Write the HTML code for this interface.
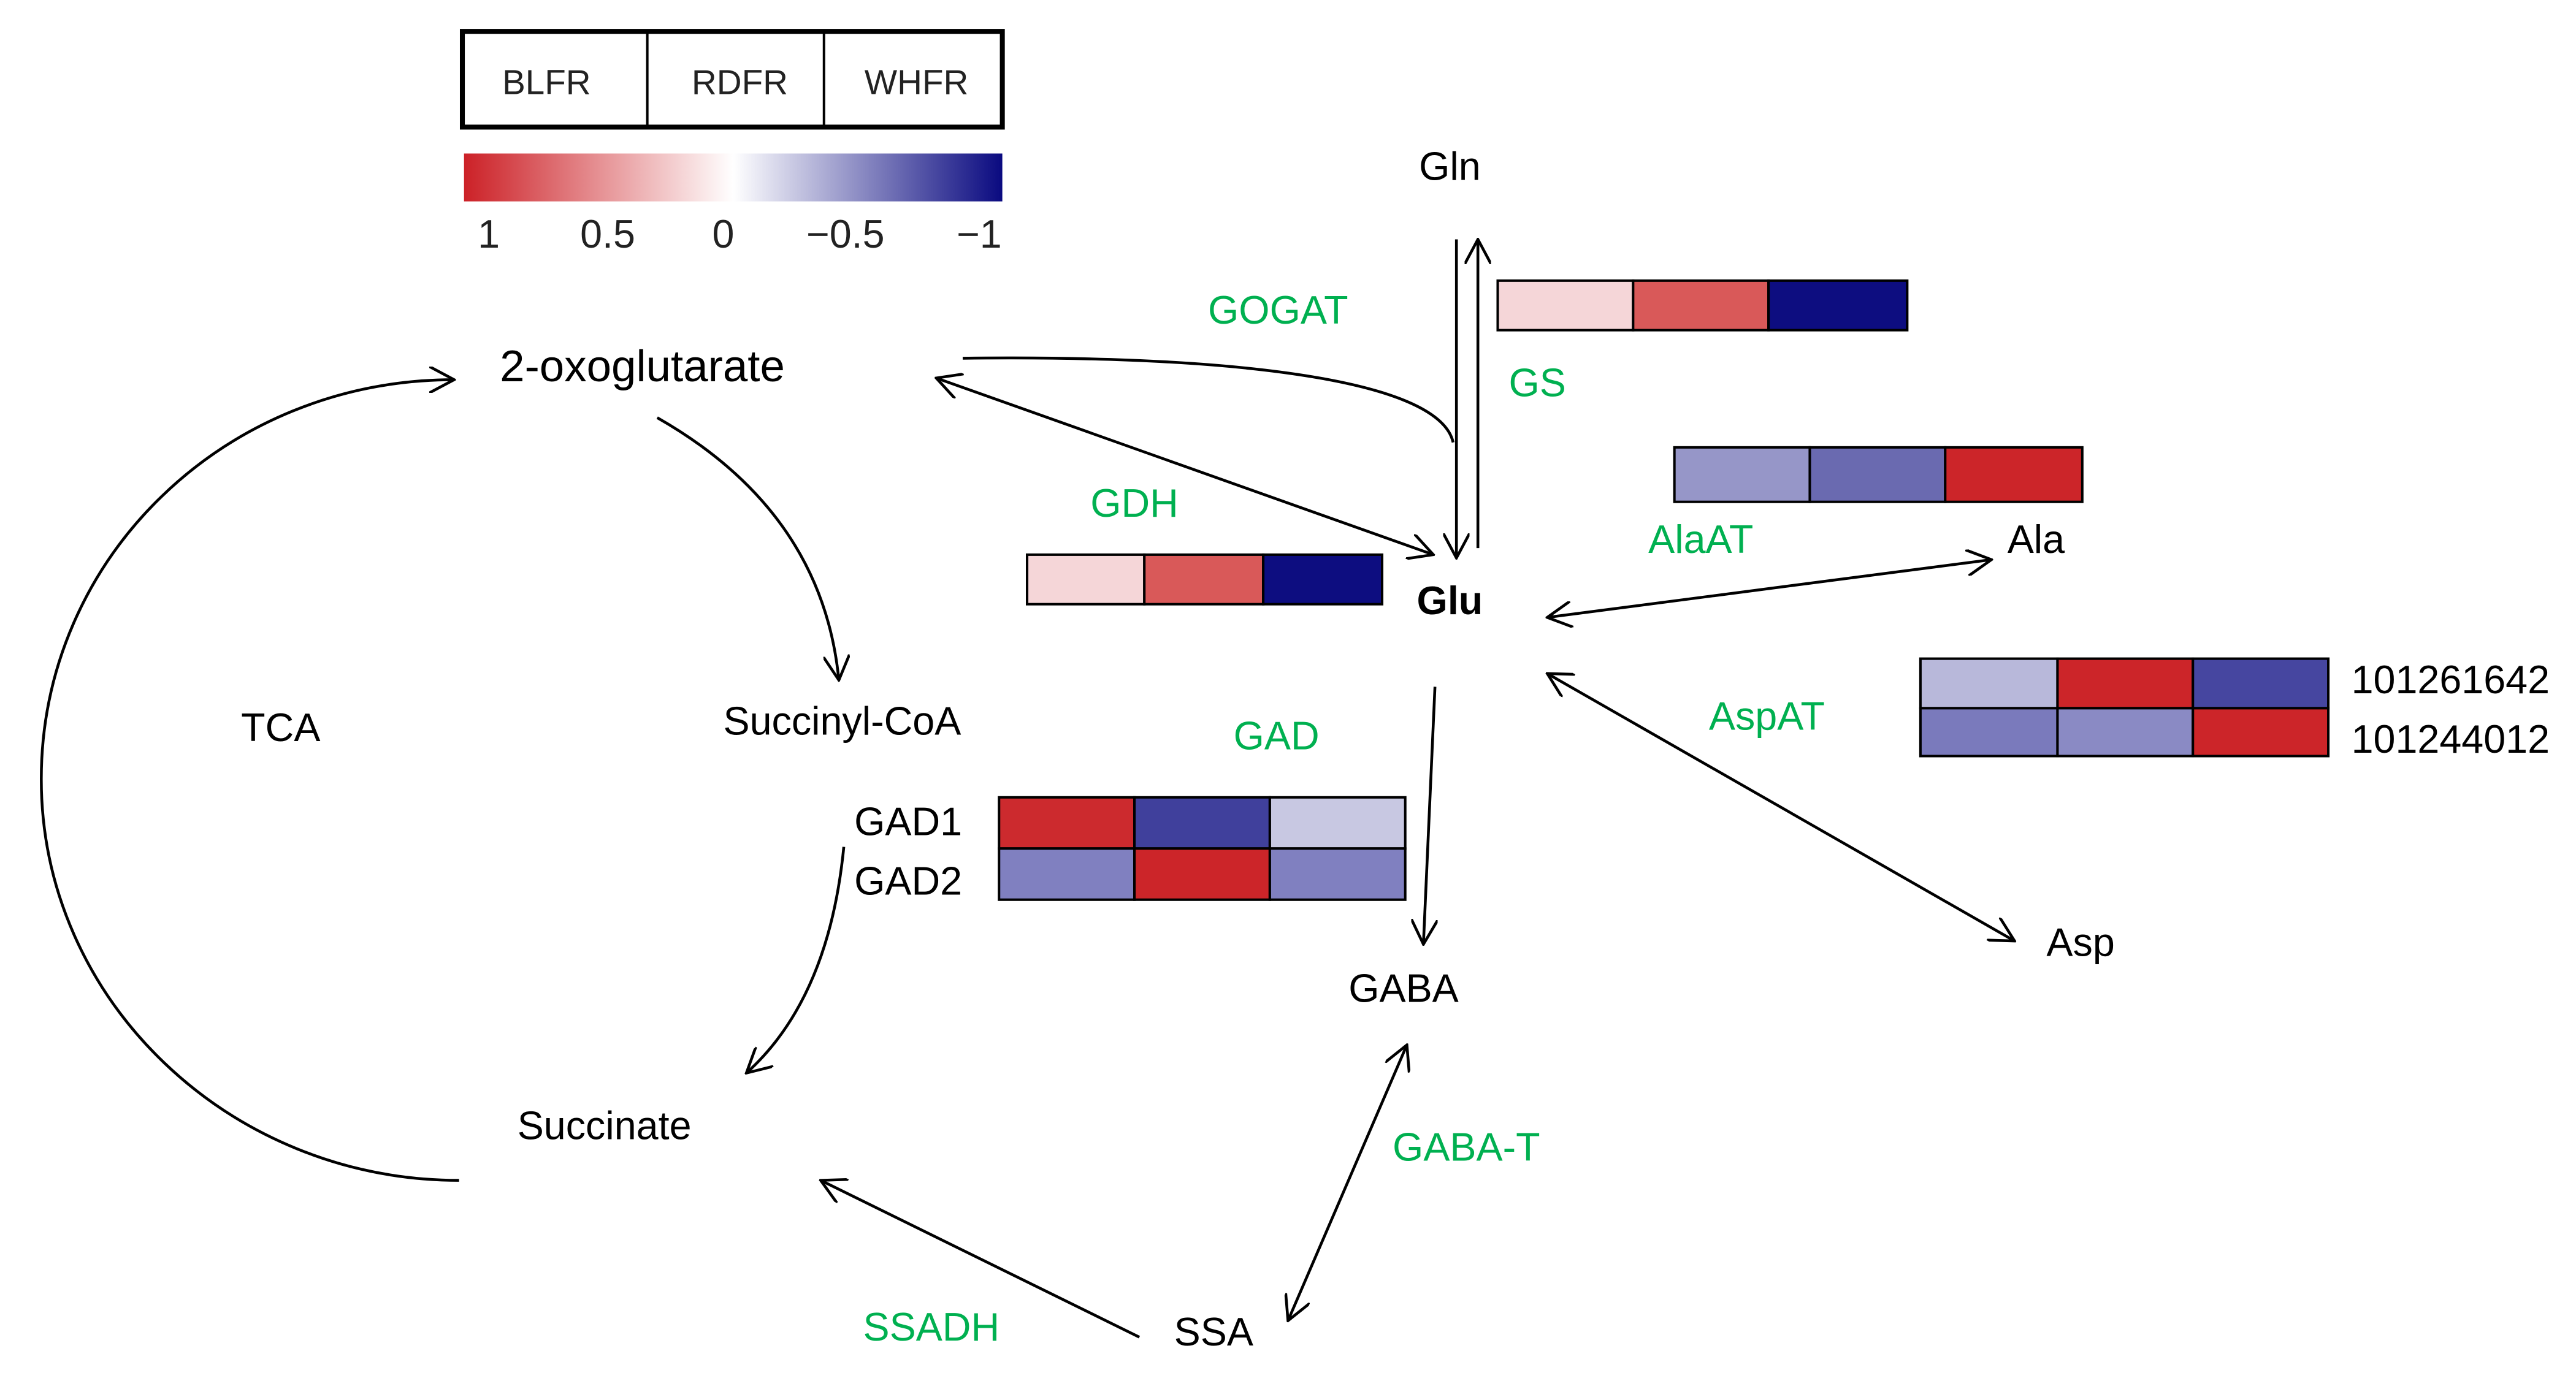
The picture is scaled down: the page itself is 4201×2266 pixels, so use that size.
<!DOCTYPE html>
<html><head><meta charset="utf-8"><style>
html,body{margin:0;padding:0;background:#fff;}
svg{display:block;}
text{font-family:"Liberation Sans",sans-serif;}
</style></head><body>
<svg width="4201" height="2266" viewBox="0 0 1560 841.4" preserveAspectRatio="none" xmlns="http://www.w3.org/2000/svg">
<defs>
<linearGradient id="g" x1="0" x2="1" y1="0" y2="0">
<stop offset="0" stop-color="#cc2127"/><stop offset="0.5" stop-color="#ffffff"/><stop offset="1" stop-color="#0a0a80"/>
</linearGradient>
<marker id="a" viewBox="0 0 16 16" refX="15" refY="8" markerWidth="16" markerHeight="16" markerUnits="userSpaceOnUse" orient="auto-start-reverse">
<path d="M0,0 L15,8 L0,16" fill="none" stroke="#000" stroke-width="1.7"/>
</marker>
</defs>
<rect x="280" y="19" width="327" height="58" fill="#fff" stroke="#000" stroke-width="3"/>
<line x1="392" y1="19" x2="392" y2="77" stroke="#000" stroke-width="1.5"/>
<line x1="499" y1="19" x2="499" y2="77" stroke="#000" stroke-width="1.5"/>
<g font-size="21" text-anchor="middle" fill="#222">
<text x="331" y="57">BLFR</text><text x="448" y="57">RDFR</text><text x="555" y="57">WHFR</text>
</g>
<rect x="281" y="93" width="326" height="29" fill="url(#g)"/>
<g font-size="24" text-anchor="middle" fill="#222">
<text x="296" y="150">1</text><text x="368" y="150">0.5</text><text x="438" y="150">0</text><text x="512" y="150">−0.5</text><text x="593" y="150">−1</text>
</g>
<g stroke="#000" stroke-width="1.5">
<rect x="907" y="170" width="82" height="30" fill="#f5d6d8"/><rect x="989" y="170" width="82" height="30" fill="#d95959"/><rect x="1071" y="170" width="84" height="30" fill="#0d0d80"/>
<rect x="622" y="336" width="71" height="30" fill="#f5d6d8"/><rect x="693" y="336" width="72" height="30" fill="#d95959"/><rect x="765" y="336" width="72" height="30" fill="#0d0d80"/>
<rect x="1014" y="271" width="82" height="33" fill="#9696c8"/><rect x="1096" y="271" width="82" height="33" fill="#6a6ab0"/><rect x="1178" y="271" width="83" height="33" fill="#cc2529"/>
<rect x="1163" y="399" width="83" height="30" fill="#b8b8da"/><rect x="1246" y="399" width="82" height="30" fill="#cc2529"/><rect x="1328" y="399" width="82" height="30" fill="#4646a0"/>
<rect x="1163" y="429" width="83" height="29" fill="#7a7abc"/><rect x="1246" y="429" width="82" height="29" fill="#8a8ac4"/><rect x="1328" y="429" width="82" height="29" fill="#cc2529"/>
<rect x="605" y="483" width="82" height="31" fill="#cc2a2e"/><rect x="687" y="483" width="82" height="31" fill="#40409c"/><rect x="769" y="483" width="82" height="31" fill="#c8c8e2"/>
<rect x="605" y="514" width="82" height="31" fill="#8080c0"/><rect x="687" y="514" width="82" height="31" fill="#cc2529"/><rect x="769" y="514" width="82" height="31" fill="#8080c0"/>
</g>
<g fill="none" stroke="#000" stroke-width="1.7">
<line x1="882" y1="145" x2="882" y2="338" marker-end="url(#a)"/>
<line x1="895" y1="332" x2="895" y2="145" marker-end="url(#a)"/>
<path d="M583,217 C760,215 872,232 880,268"/>
<line x1="567" y1="229" x2="868" y2="336" marker-start="url(#a)" marker-end="url(#a)"/>
<path d="M278,715 C139,715 25,606 25,472 C25,338 136,230 275,230" marker-end="url(#a)"/>
<path d="M398,253 Q498,310 508,412" marker-end="url(#a)"/>
<path d="M511,513 Q502,605 452,650" marker-end="url(#a)"/>
<line x1="869" y1="416" x2="862" y2="572" marker-end="url(#a)"/>
<line x1="852" y1="633" x2="780" y2="800" marker-start="url(#a)" marker-end="url(#a)"/>
<line x1="690" y1="810" x2="497" y2="715" marker-end="url(#a)"/>
<line x1="937" y1="374" x2="1206" y2="339" marker-start="url(#a)" marker-end="url(#a)"/>
<line x1="937" y1="408" x2="1220" y2="570" marker-start="url(#a)" marker-end="url(#a)"/>
</g>
<g font-size="24" fill="#00b050" text-anchor="middle">
<text x="774" y="196">GOGAT</text><text x="931" y="240">GS</text><text x="687" y="313">GDH</text>
<text x="1030" y="335">AlaAT</text><text x="1070" y="442">AspAT</text><text x="773" y="454">GAD</text>
<text x="888" y="703">GABA-T</text><text x="564" y="812">SSADH</text>
</g>
<g font-size="24" fill="#000" text-anchor="middle">
<text x="389" y="231" font-size="27">2-oxoglutarate</text>
<text x="878" y="109">Gln</text>
<text x="510" y="445">Succinyl-CoA</text>
<text x="170" y="449">TCA</text>
<text x="366" y="690">Succinate</text>
<text x="850" y="607">GABA</text>
<text x="735" y="815">SSA</text>
<text x="1260" y="579">Asp</text>
<text x="1233" y="335">Ala</text>
<text x="878" y="372" font-weight="bold">Glu</text>
<text x="550" y="506">GAD1</text>
<text x="550" y="542">GAD2</text>
<text x="1484" y="420">101261642</text>
<text x="1484" y="456">101244012</text>
</g>
</svg>
</body></html>
